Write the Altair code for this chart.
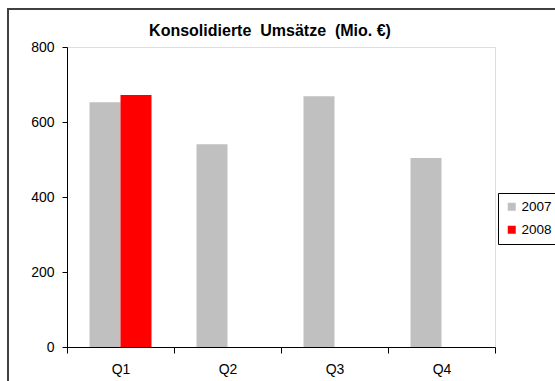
import altair as alt
import pandas as pd

# Quarterly consolidated revenue (million EUR)
quarters = ["Q1", "Q2", "Q3", "Q4"]
revenue_2007 = [653, 541, 669, 504]
revenue_2008 = [672]  # only Q1 reported so far

rows = []
for q, v in zip(quarters, revenue_2007):
    rows.append({"quarter": q, "year": "2007", "value": v})
for q, v in zip(quarters, revenue_2008):
    rows.append({"quarter": q, "year": "2008", "value": v})
df = pd.DataFrame(rows)

FONT = "Liberation Sans"
LABEL_SIZE = 14
NBSP = "\u00a0"

bars = alt.Chart(df).mark_bar().encode(
    x=alt.X(
        "quarter:N",
        sort=quarters,
        scale=alt.Scale(paddingInner=0, paddingOuter=0),
        axis=alt.Axis(
            title=None, labelAngle=0, tickBand="extent", tickSize=6,
            labelPadding=9, labelFontSize=LABEL_SIZE, labelFont=FONT,
            labelColor="black", domainColor="black", tickColor="black",
        ),
    ),
    xOffset=alt.XOffset(
        "year:N", sort=["2007", "2008"],
        scale=alt.Scale(paddingInner=0, paddingOuter=0.726),
    ),
    y=alt.Y(
        "value:Q",
        scale=alt.Scale(domain=[0, 800]),
        axis=alt.Axis(
            title=None, values=[0, 200, 400, 600, 800], grid=False,
            tickSize=5, labelPadding=8, labelFontSize=LABEL_SIZE, labelFont=FONT,
            labelColor="black", domainColor="black", tickColor="black",
        ),
    ),
    color=alt.Color(
        "year:N",
        scale=alt.Scale(domain=["2007", "2008"], range=["#C0C0C0", "#FF0000"]),
        legend=alt.Legend(
            title=None, orient="none", legendX=431, legendY=146,
            strokeColor="black", fillColor="white", padding=7,
            symbolType="square", symbolSize=64, symbolStrokeWidth=0,
            labelFontSize=13.5, labelFont=FONT, labelColor="black",
            rowPadding=8, labelOffset=3,
        ),
    ),
)

one = pd.DataFrame({"k": [0]})

# Outer chart frame
frame = alt.Chart(one).mark_rect(
    filled=False, stroke="#404040", strokeWidth=2
).encode(
    x=alt.value(-59), x2=alt.value(620),
    y=alt.value(-38), y2=alt.value(420),
)

# Chart heading (non-breaking spaces keep the wide word gaps)
heading = alt.Chart(one).mark_text(
    text=f"Konsolidierte{NBSP} Umsätze{NBSP} (Mio. €)",
    font=FONT, fontSize=16, fontWeight="bold", color="black",
    align="center", baseline="alphabetic",
).encode(x=alt.value(203), y=alt.value(-11))

chart = alt.layer(frame, bars, heading).properties(
    width=428,
    height=300,
    padding={"left": 67, "top": 47, "right": 60, "bottom": 34},
    autosize=alt.AutoSizeParams(type="none"),
).configure_view(
    stroke="#999999", strokeWidth=1.5
).configure(background="white")

chart.save("out.html", embed_options={"renderer": "svg", "actions": False})
